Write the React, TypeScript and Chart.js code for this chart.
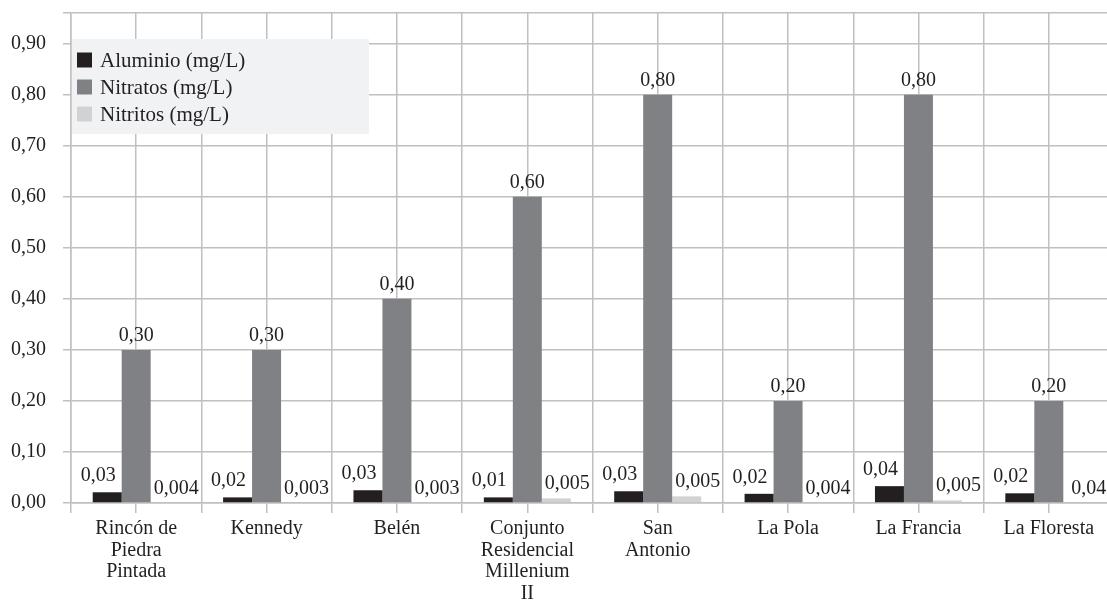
import React, { useEffect, useRef } from 'react';
import { Chart, registerables } from 'chart.js';

Chart.register(...registerables);

// ---- data ----
const categories: (string | string[])[] = [
  ['Rincón de', 'Piedra', 'Pintada'],
  'Kennedy',
  'Belén',
  ['Conjunto', 'Residencial', 'Millenium', 'II'],
  ['San', 'Antonio'],
  'La Pola',
  'La Francia',
  'La Floresta',
];
const seriesNames = ['Aluminio (mg/L)', 'Nitratos (mg/L)', 'Nitritos (mg/L)'];
const aluminio = [0.021, 0.011, 0.025, 0.011, 0.023, 0.018, 0.033, 0.019];
const nitratos = [0.3, 0.3, 0.4, 0.6, 0.8, 0.2, 0.8, 0.2];
const nitritos = [0, 0, 0, 0.009, 0.013, 0, 0.005, 0];
const aluminioLabels = ['0,03', '0,02', '0,03', '0,01', '0,03', '0,02', '0,04', '0,02'];
const nitratosLabels = ['0,30', '0,30', '0,40', '0,60', '0,80', '0,20', '0,80', '0,20'];
const nitritosLabels = ['0,004', '0,003', '0,003', '0,005', '0,005', '0,004', '0,005', '0,04'];
const yTicks = [0, 0.1, 0.2, 0.3, 0.4, 0.5, 0.6, 0.7, 0.8, 0.9];
const yMax = 0.96;

// ---- styles ----
const FONT = "'Liberation Serif', 'Times New Roman', serif";
const TEXT = '#231f20';
const GRID = '#c0c0c0';
const COLORS = ['#231f20', '#808184', '#d1d2d4'];
const LABEL_OFFSETS = [
  { dx: -9, gap: 11 },
  { dx: 0, gap: 9 },
  { dx: 11, gap: 9 },
];
const CANVAS_W = 1125;
const CANVAS_H = 604;

const valueLabels = [aluminioLabels, nitratosLabels, nitritosLabels];

const dataLabelPlugin = {
  id: 'dataLabels',
  afterDatasetsDraw(chart: any) {
    const ctx = chart.ctx;
    ctx.save();
    ctx.font = `20px ${FONT}`;
    ctx.fillStyle = TEXT;
    ctx.textAlign = 'center';
    ctx.textBaseline = 'alphabetic';
    chart.data.datasets.forEach((_ds: any, i: number) => {
      const meta = chart.getDatasetMeta(i);
      meta.data.forEach((bar: any, j: number) => {
        const top = Math.min(bar.y, bar.base);
        ctx.fillText(valueLabels[i][j], bar.x + LABEL_OFFSETS[i].dx, top - LABEL_OFFSETS[i].gap);
      });
    });
    ctx.restore();
  },
};

const insideLegendPlugin = {
  id: 'insideLegend',
  afterDraw(chart: any) {
    const ctx = chart.ctx;
    const { left, top } = chart.chartArea;
    const x0 = left + 1;
    const y0 = top + 26;
    ctx.save();
    ctx.fillStyle = '#f1f2f4';
    ctx.fillRect(x0, y0, 297, 95);
    ctx.font = `21px ${FONT}`;
    ctx.textAlign = 'left';
    ctx.textBaseline = 'middle';
    chart.data.datasets.forEach((ds: any, i: number) => {
      const cy = y0 + 21 + i * 27;
      ctx.fillStyle = ds.backgroundColor;
      ctx.fillRect(x0 + 5, cy - 7.5, 15, 15);
      ctx.fillStyle = TEXT;
      ctx.fillText(ds.label, x0 + 28, cy + 1);
    });
    ctx.restore();
  },
};

const fmt = (v: number) => v.toFixed(2).replace('.', ',');

export default function App() {
  const canvasRef = useRef<HTMLCanvasElement | null>(null);

  useEffect(() => {
    if (!canvasRef.current) return;
    const chart = new Chart(canvasRef.current, {
      type: 'bar',
      data: {
        labels: categories as any,
        datasets: [aluminio, nitratos, nitritos].map((d, i) => ({
          label: seriesNames[i],
          data: d,
          backgroundColor: COLORS[i],
          borderWidth: 0,
          xAxisID: 'x',
          yAxisID: 'y',
          barPercentage: 1,
          categoryPercentage: 0.667,
        })),
      },
      options: {
        responsive: false,
        animation: false,
        layout: { padding: { top: 13, left: 0, right: CANVAS_W - 1114, bottom: 0 } },
        plugins: { legend: { display: false }, tooltip: { enabled: false } },
        scales: {
          xb: {
            type: 'category',
            position: 'bottom',
            weight: 0,
            offset: true,
            grid: { offset: true, color: GRID, lineWidth: 1.5, tickLength: 10, drawTicks: true },
            border: { display: true, color: GRID, width: 1.5 },
            ticks: { display: false },
            afterFit: (scale: any) => {
              scale.height = 0;
              scale.paddingLeft = 0;
              scale.paddingRight = 0;
            },
          },
          x: {
            type: 'category',
            position: 'bottom',
            weight: 1,
            offset: true,
            grid: { offset: false, color: GRID, lineWidth: 1.5, tickLength: 10 },
            border: { display: false },
            ticks: {
              color: TEXT,
              font: { family: FONT, size: 20, lineHeight: 1.08 },
              maxRotation: 0,
              minRotation: 0,
              autoSkip: false,
              padding: 5,
            },
            afterFit: (scale: any) => {
              scale.height = 101;
              scale.paddingLeft = 0;
              scale.paddingRight = 0;
            },
          },
          y: {
            type: 'linear',
            min: 0,
            max: yMax,
            grid: { color: GRID, lineWidth: 1.5, tickLength: 8 },
            border: { display: true, color: GRID, width: 1.5 },
            afterBuildTicks: (scale: any) => {
              scale.ticks = [...yTicks, yMax].map((v) => ({ value: v }));
            },
            ticks: {
              color: TEXT,
              font: { family: FONT, size: 20 },
              padding: 17,
              callback: (v: any) => (yTicks.includes(v) ? fmt(v) : ''),
            },
            afterFit: (scale: any) => {
              scale.width = 71;
              scale.paddingTop = 0;
              scale.paddingBottom = 0;
            },
          },
        },
      } as any,
      plugins: [dataLabelPlugin, insideLegendPlugin],
    });
    return () => chart.destroy();
  }, []);

  return (
    <div
      style={{
        position: 'fixed',
        left: 0,
        top: 0,
        width: 1107,
        height: 604,
        overflow: 'hidden',
        background: '#ffffff',
      }}
    >
      <canvas
        ref={canvasRef}
        width={CANVAS_W}
        height={CANVAS_H}
        style={{ display: 'block', width: CANVAS_W, height: CANVAS_H }}
      />
    </div>
  );
}
